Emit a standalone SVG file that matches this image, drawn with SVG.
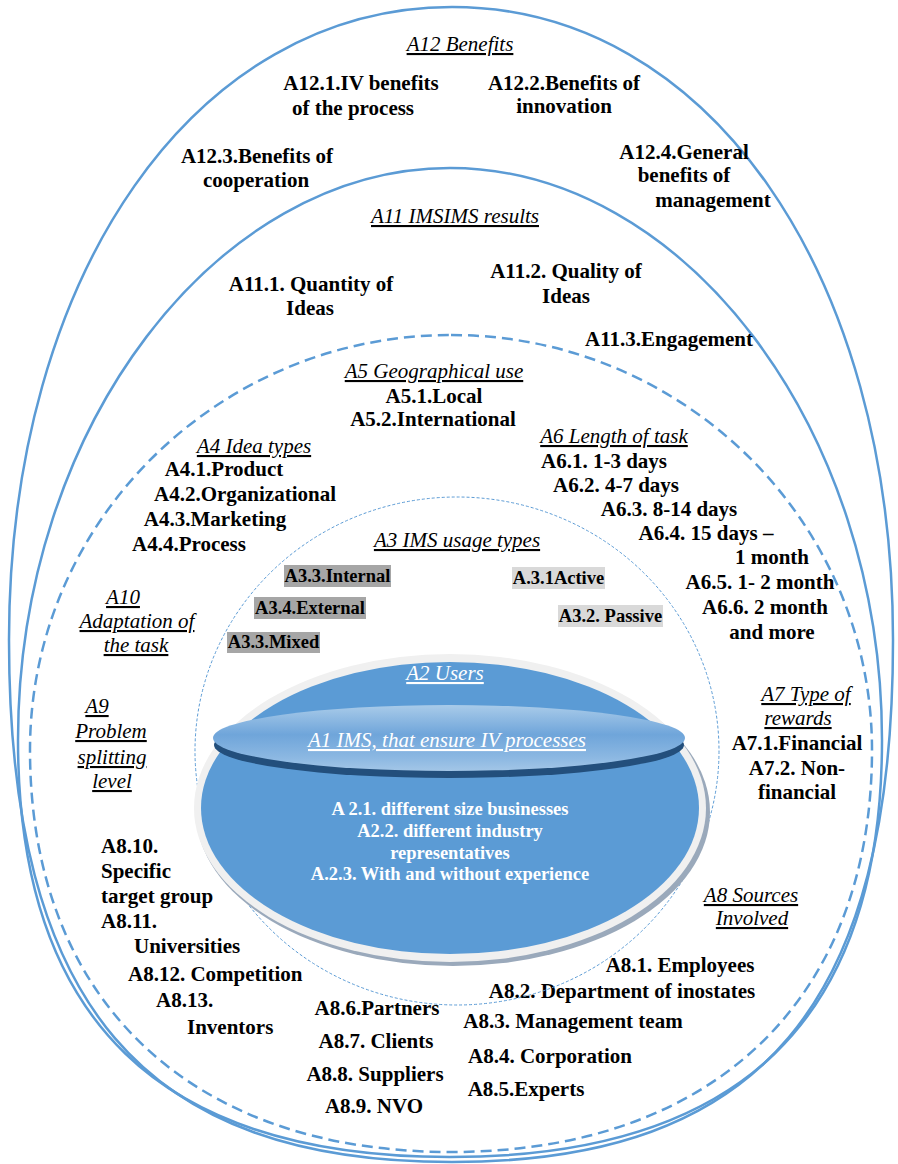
<svg xmlns="http://www.w3.org/2000/svg" width="898" height="1164" viewBox="0 0 898 1164">
  <defs>
    <style>
      .ring { fill: none; stroke: #5b9bd5; stroke-width: 2.5; }
      .ring-dash { fill: none; stroke: #5b9bd5; stroke-width: 2.5; stroke-dasharray: 11 6; }
      .ring-thin { fill: none; stroke: #5b9bd5; stroke-width: 1; stroke-dasharray: 3 2; }
      text { font-family: "Liberation Serif", "Times New Roman", serif; fill: #000; }
      .b { font-size: 21px; font-weight: bold; text-anchor: middle; }
      .bl { font-size: 21px; font-weight: bold; text-anchor: start; }
      .h { font-size: 21px; font-style: italic; text-anchor: middle; text-decoration: underline; }
      .hw { font-size: 21px; font-style: italic; text-anchor: middle; text-decoration: underline; fill: #fff; }
      .w { font-size: 18.5px; font-weight: bold; text-anchor: middle; fill: #fff; }
      .tag { font-size: 18.5px; font-weight: bold; text-anchor: middle; }
      .dark { fill: #a6a6a6; }
      .light { fill: #d9d9d9; }
    </style>
    <linearGradient id="discTop" x1="0" y1="0" x2="0" y2="1">
      <stop offset="0" stop-color="#a9cbe9"/>
      <stop offset="0.45" stop-color="#6fa5da"/>
      <stop offset="0.8" stop-color="#8cb8e2"/>
      <stop offset="1" stop-color="#a3c6e7"/>
    </linearGradient>
  </defs>

  <!-- A12 outer benefits ring -->
  <g id="a12">
    <path class="ring" d="M452,7 C708,7 893,273 893,640 C893,1005 761,1162 452,1162 C143,1162 9,1005 9,640 C9,273 196,7 452,7 Z"/>
    <text class="h" x="460" y="51">A12 Benefits</text>
    <text class="b" x="361" y="90">A12.1.IV benefits</text>
    <text class="b" x="353" y="115">of the process</text>
    <text class="b" x="564" y="90">A12.2.Benefits of</text>
    <text class="b" x="564" y="113">innovation</text>
    <text class="b" x="257" y="163">A12.3.Benefits of</text>
    <text class="b" x="256" y="187">cooperation</text>
    <text class="b" x="684" y="159">A12.4.General</text>
    <text class="b" x="684" y="182">benefits of</text>
    <text class="b" x="713" y="207">management</text>
  </g>

  <!-- A11 results ring -->
  <g id="a11">
    <path class="ring" d="M450,168 C683,168 882,427 882,740 C882,1020 740,1157 450,1157 C160,1157 18,1020 18,740 C18,427 217,168 450,168 Z"/>
    <text class="h" x="455" y="223">A11 IMSIMS results</text>
    <text class="b" x="311" y="291">A11.1. Quantity of</text>
    <text class="b" x="310" y="315">Ideas</text>
    <text class="b" x="566" y="278">A11.2. Quality of</text>
    <text class="b" x="566" y="303">Ideas</text>
    <text class="b" x="669" y="346">A11.3.Engagement</text>
  </g>

  <!-- dashed ring holding task parameters A4-A10 -->
  <g id="task-ring">
    <path class="ring-dash" d="M451,335 C683,335 872,521 872,750 C872,1000 712,1152 451,1152 C190,1152 30,1000 30,750 C30,521 219,335 451,335 Z"/>
  </g>

  <g id="a5">
    <text class="h" x="434" y="378">A5 Geographical use</text>
    <text class="b" x="434" y="403">A5.1.Local</text>
    <text class="b" x="433" y="426">A5.2.International</text>
  </g>

  <g id="a4">
    <text class="h" x="254" y="453">A4 Idea types</text>
    <text class="b" x="224" y="476">A4.1.Product</text>
    <text class="b" x="245" y="501">A4.2.Organizational</text>
    <text class="b" x="215" y="526">A4.3.Marketing</text>
    <text class="b" x="189" y="551">A4.4.Process</text>
  </g>

  <g id="a6">
    <text class="h" x="614" y="443">A6 Length of task</text>
    <text class="b" x="604" y="468">A6.1. 1-3 days</text>
    <text class="b" x="616" y="492">A6.2. 4-7 days</text>
    <text class="b" x="669" y="516">A6.3. 8-14 days</text>
    <text class="b" x="706" y="540">A6.4. 15 days –</text>
    <text class="b" x="772" y="564">1 month</text>
    <text class="b" x="760" y="589">A6.5. 1- 2 month</text>
    <text class="b" x="765" y="614">A6.6. 2 month</text>
    <text class="b" x="772" y="639">and more</text>
  </g>

  <g id="a10">
    <text class="h" x="123" y="604">A10</text>
    <text class="h" x="137" y="628">Adaptation of</text>
    <text class="h" x="136" y="652">the task</text>
  </g>

  <g id="a9">
    <text class="h" x="97" y="713">A9</text>
    <text class="h" x="111" y="738">Problem</text>
    <text class="h" x="112" y="764">splitting</text>
    <text class="h" x="112" y="788">level</text>
  </g>

  <g id="a7">
    <text class="h" x="806" y="701">A7 Type of</text>
    <text class="h" x="798" y="725">rewards</text>
    <text class="b" x="797" y="750">A7.1.Financial</text>
    <text class="b" x="797" y="775">A7.2. Non-</text>
    <text class="b" x="797" y="799">financial</text>
  </g>

  <g id="a8">
    <text class="h" x="751" y="902">A8 Sources</text>
    <text class="h" x="752" y="925">Involved</text>
    <text class="bl" x="101" y="853">A8.10.</text>
    <text class="bl" x="101" y="878">Specific</text>
    <text class="bl" x="101" y="903">target group</text>
    <text class="bl" x="101" y="928">A8.11.</text>
    <text class="bl" x="134" y="953">Universities</text>
    <text class="bl" x="128" y="981">A8.12. Competition</text>
    <text class="bl" x="156" y="1007">A8.13.</text>
    <text class="bl" x="187" y="1034">Inventors</text>
    <text class="b" x="680" y="972">A8.1. Employees</text>
    <text class="b" x="622" y="998">A8.2. Department of inostates</text>
    <text class="b" x="573" y="1028">A8.3. Management team</text>
    <text class="b" x="550" y="1063">A8.4. Corporation</text>
    <text class="b" x="526" y="1096">A8.5.Experts</text>
    <text class="b" x="377" y="1015">A8.6.Partners</text>
    <text class="b" x="376" y="1048">A8.7. Clients</text>
    <text class="b" x="375" y="1081">A8.8. Suppliers</text>
    <text class="b" x="374" y="1113">A8.9. NVO</text>
  </g>

  <!-- A3 usage types: thin dotted ring with shaded tags -->
  <g id="a3">
    <ellipse class="ring-thin" cx="457" cy="751" rx="262" ry="254"/>
    <text class="h" x="457" y="547">A3 IMS usage types</text>
    <rect class="dark" x="284" y="565" width="107" height="22"/>
    <text class="tag" x="337.5" y="582">A3.3.Internal</text>
    <rect class="light" x="512" y="567" width="93" height="22"/>
    <text class="tag" x="558.5" y="584">A.3.1Active</text>
    <rect class="dark" x="254" y="597" width="112" height="22"/>
    <text class="tag" x="310" y="614">A3.4.External</text>
    <rect class="light" x="558" y="605" width="105" height="22"/>
    <text class="tag" x="610.5" y="622">A3.2. Passive</text>
    <rect class="dark" x="227" y="632" width="93" height="21"/>
    <text class="tag" x="273.5" y="648">A3.3.Mixed</text>
  </g>

  <!-- A2 users: blue base with rim -->
  <g id="a2">
    <ellipse cx="453" cy="812" rx="257" ry="154" fill="#9aa9bb"/>
    <ellipse cx="450" cy="808" rx="256" ry="154" fill="#f0f0f0"/>
    <ellipse cx="450" cy="808" rx="249" ry="146" fill="#5b9bd5"/>
    <text class="hw" x="445" y="680">A2 Users</text>
    <text class="w" x="450" y="815">A 2.1. different size businesses</text>
    <text class="w" x="450" y="837">A2.2. different industry</text>
    <text class="w" x="450" y="859">representatives</text>
    <text class="w" x="450" y="880">A.2.3. With and without experience</text>
  </g>

  <!-- A1 disc on top of the users base -->
  <g id="a1">
    <ellipse cx="449" cy="745" rx="235" ry="33" fill="#234f7c"/>
    <ellipse cx="449" cy="738" rx="236" ry="33" fill="url(#discTop)"/>
    <text class="hw" x="447" y="747">A1 IMS, that ensure IV processes</text>
  </g>

  <g id="connectors"/>
</svg>
